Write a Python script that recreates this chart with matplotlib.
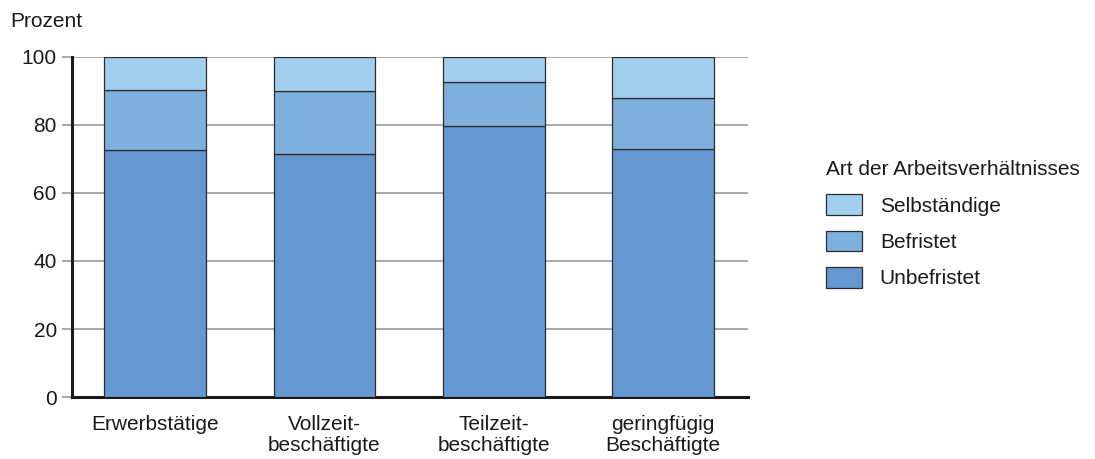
import numpy as np
import matplotlib.pyplot as plt
from matplotlib.patches import Patch

plt.rcParams['font.family'] = ['Liberation Sans', 'DejaVu Sans']

gruppen = ['Erwerbstätige', 'Vollzeit-\nbeschäftigte', 'Teilzeit-\nbeschäftigte', 'geringfügig\nBeschäftigte']
unbefristet = [72.6, 71.4, 79.7, 72.9]
befristet = [17.7, 18.5, 12.8, 15.0]
selbstaendige = [9.7, 10.1, 7.5, 12.1]

farben = ['#6598d1', '#7eb0de', '#a3cfef']
namen = ['Unbefristet', 'Befristet', 'Selbständige']
fs = 15

fig = plt.figure(figsize=(10.95, 4.59), dpi=100)
ax = fig.add_axes([0.0658, 0.135, 0.6173, 0.741])

x = np.arange(len(gruppen))
unten = np.zeros(len(gruppen))
for werte, farbe in zip([unbefristet, befristet, selbstaendige], farben):
    ax.bar(x, werte, 0.6, bottom=unten, color=farbe, edgecolor='#2b2b2b',
           linewidth=0.9, zorder=3)
    unten += np.array(werte)

ax.set_xlim(-0.49, 3.5)
ax.set_ylim(0, 100)
ax.set_yticks([0, 20, 40, 60, 80, 100])
ax.yaxis.grid(True, color='#9a9a9a', linewidth=1.2, zorder=0)
ax.set_axisbelow(True)
ax.set_xticks(x)
ax.set_xticklabels(gruppen, fontsize=fs, color='#1a1a1a', va='top', linespacing=1.15)
ax.tick_params(axis='x', length=0, pad=13)
ax.tick_params(axis='y', length=7, width=1.2, color='#9a9a9a', labelsize=fs,
               labelcolor='#1a1a1a', pad=4)

for s in ['top', 'right']:
    ax.spines[s].set_visible(False)
ax.spines['left'].set_linewidth(2.2)
ax.spines['bottom'].set_linewidth(2.2)
ax.spines['left'].set_color('#1a1a1a')
ax.spines['bottom'].set_color('#1a1a1a')

fig.text(0.009, 0.954, 'Prozent', fontsize=fs, color='#1a1a1a', va='center')

griffe = [Patch(facecolor=f, edgecolor='#2b2b2b', linewidth=0.9, label=n)
          for f, n in zip(farben[::-1], namen[::-1])]
leg = fig.legend(handles=griffe, title='Art der Arbeitsverhältnisses', frameon=False,
                 loc='upper left', bbox_to_anchor=(0.754, 0.651), fontsize=fs,
                 title_fontsize=fs, handlelength=1.73, handleheight=1.15,
                 labelspacing=0.72, handletextpad=0.87, borderpad=0,
                 borderaxespad=0, alignment='left')
leg.get_title().set_color('#1a1a1a')
for t in leg.get_texts():
    t.set_color('#1a1a1a')

fig.savefig('out.png', dpi=100)
